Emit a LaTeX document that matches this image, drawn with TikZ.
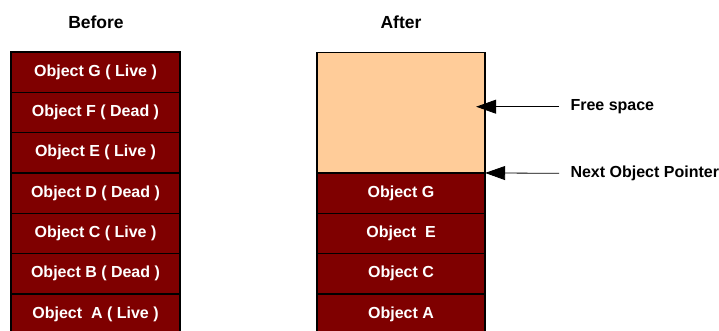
\documentclass[tikz,border=0pt]{standalone}
\usepackage{fontspec}
\setmainfont{Liberation Sans}
\usetikzlibrary{positioning,arrows.meta}
\definecolor{objred}{HTML}{7F0000}
\definecolor{freepeach}{HTML}{FFCC99}

\begin{document}
\begin{tikzpicture}[x=1pt,y=-1pt]
	\tikzstyle{obj} = [rectangle, minimum width=169pt, minimum height=40.3pt, draw=black, line width=1.4pt, outer sep=0pt, fill=objred, text=white, font=\fontsize{16}{18}\selectfont\bfseries, align=center]
	\tikzstyle{free} = [rectangle, minimum width=168.3pt, minimum height=120.7pt, draw=black, line width=1.4pt, outer sep=0pt, fill=freepeach]
	\tikzstyle{title} = [font=\fontsize{16}{18}\selectfont\bfseries]
	\tikzstyle{pointer} = [-{Triangle[length=20pt,width=14pt]}, line width=0.8pt]
	
	\useasboundingbox (0,0) rectangle (719,331);
	
	\node (before) [title, font=\fontsize{17.5}{20}\selectfont\bfseries] at (96,22) {Before};
	\node (after) [title, font=\fontsize{17.5}{20}\selectfont\bfseries] at (401,22) {After};
	
	% before compaction
	\node (objG) [obj] at (95.5,72.2) {Object G ( Live )};
	\node (objF) [obj, below=0pt of objG] {Object F ( Dead )};
	\node (objE) [obj, below=0pt of objF] {Object E ( Live )};
	\node (objD) [obj, below=0pt of objE] {Object D ( Dead )};
	\node (objC) [obj, below=0pt of objD] {Object C ( Live )};
	\node (objB) [obj, below=0pt of objC] {Object B ( Dead )};
	\node (objA) [obj, below=0pt of objB] {Object\ \ A ( Live )};
	
	% after compaction
	\node (freespace) [free] at (401,112.6) {};
	\node (newG) [obj, minimum width=168.3pt, below=0pt of freespace] {Object G};
	\node (newE) [obj, minimum width=168.3pt, below=0pt of newG] {Object\ \ E};
	\node (newC) [obj, minimum width=168.3pt, below=0pt of newE] {Object C};
	\node (newA) [obj, minimum width=168.3pt, below=0pt of newC] {Object A};
	
	\node (freelabel) [title, anchor=west] at (567,106.7) {Free space};
	\node (nextlabel) [title, anchor=west] at (567,173.3) {Next Object Pointer};
	
	\coordinate (freetip) at ([xshift=-9pt]freespace.east |- freelabel.west);
	\coordinate (freetail) at ([xshift=-8pt]freelabel.west);
	\coordinate (nexttail) at ([xshift=-8pt]nextlabel.west);
	
	\draw[pointer] (freetail) -- (freetip);
	\draw[pointer] (nexttail) -- (freespace.south east);
	
\end{tikzpicture}
\end{document}
